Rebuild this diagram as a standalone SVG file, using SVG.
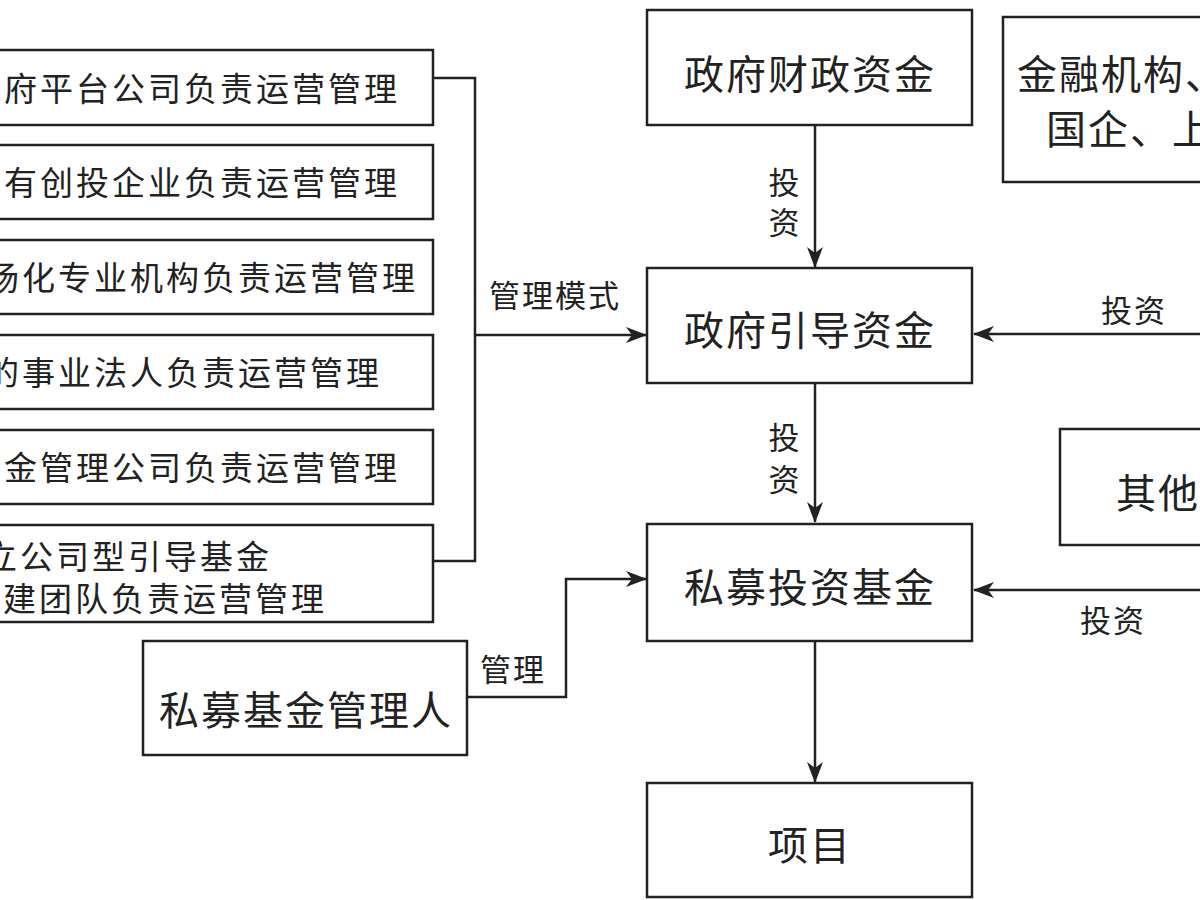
<svg xmlns="http://www.w3.org/2000/svg" width="1200" height="900" viewBox="0 0 1200 900">
<defs>
<style>
.box{fill:#fff;stroke:#222;stroke-width:2.5}
.ln{fill:none;stroke:#222;stroke-width:2.5}
text{font-family:"Noto Sans CJK SC","Noto Sans CJK JP",sans-serif;fill:#222;dominant-baseline:central}
.t1{font-size:33px;letter-spacing:3px;text-anchor:end}
.t2{font-size:40px;letter-spacing:2px}
.lb{font-size:31px;letter-spacing:2px}
</style>
<marker id="ah" markerUnits="userSpaceOnUse" markerWidth="22" markerHeight="16" refX="20" refY="8" orient="auto">
<path d="M0,0 L21,8 L0,16 L6,8 Z" fill="#222"/>
</marker>
</defs>
<rect width="1200" height="900" fill="#fff"/>
<g id="connectors">
<polyline class="ln" points="433,78 475,78 475,561 433,561"/>
<line class="ln" x1="475" y1="335" x2="646" y2="335" marker-end="url(#ah)"/>
<line class="ln" x1="815" y1="125" x2="815" y2="267" marker-end="url(#ah)"/>
<line class="ln" x1="815" y1="383" x2="815" y2="522" marker-end="url(#ah)"/>
<line class="ln" x1="815" y1="641" x2="815" y2="782" marker-end="url(#ah)"/>
<line class="ln" x1="1205" y1="334" x2="974" y2="334" marker-end="url(#ah)"/>
<line class="ln" x1="1205" y1="590" x2="974" y2="590" marker-end="url(#ah)"/>
<polyline class="ln" points="467,697 566,697 566,579 646,579" marker-end="url(#ah)"/>
<text class="lb" x="555" y="293" text-anchor="middle">管理模式</text>
<text class="lb" text-anchor="middle"><tspan x="785" y="180">投</tspan><tspan x="785" y="220">资</tspan></text>
<text class="lb" text-anchor="middle"><tspan x="785" y="435">投</tspan><tspan x="785" y="477">资</tspan></text>
<text class="lb" x="1134" y="308" text-anchor="middle">投资</text>
<text class="lb" x="1113" y="618" text-anchor="middle">投资</text>
<text class="lb" x="513" y="667" text-anchor="middle">管理</text>
</g>
<g id="n1"><rect class="box" x="-10" y="50" width="443" height="75"/><text class="t1" x="400" y="87">府平台公司负责运营管理</text></g>
<g id="n2"><rect class="box" x="-10" y="145" width="443" height="74"/><text class="t1" x="400" y="181">有创投企业负责运营管理</text></g>
<g id="n3"><rect class="box" x="-10" y="240" width="443" height="74"/><text class="t1" x="418" y="276">场化专业机构负责运营管理</text></g>
<g id="n4"><rect class="box" x="-10" y="335" width="443" height="74"/><text class="t1" x="382" y="371">的事业法人负责运营管理</text></g>
<g id="n5"><rect class="box" x="-10" y="430" width="443" height="74"/><text class="t1" x="400" y="466">金管理公司负责运营管理</text></g>
<g id="n6"><rect class="box" x="-10" y="525" width="443" height="97"/><text class="t1"><tspan x="272" y="555">立公司型引导基金</tspan><tspan x="327" y="597">建团队负责运营管理</tspan></text></g>
<g id="n7"><rect class="box" x="143" y="641" width="324" height="114"/><text class="t2" x="306" y="708" text-anchor="middle">私募基金管理人</text></g>
<g id="n8"><rect class="box" x="647" y="10" width="325" height="115"/><text class="t2" x="810" y="72" text-anchor="middle">政府财政资金</text></g>
<g id="n9"><rect class="box" x="1003" y="17" width="220" height="165"/><text class="t2"><tspan x="1017" y="72">金融机构、</tspan><tspan x="1046" y="127">国企、上</tspan></text></g>
<g id="n10"><rect class="box" x="647" y="268" width="325" height="115"/><text class="t2" x="810" y="328" text-anchor="middle">政府引导资金</text></g>
<g id="n11"><rect class="box" x="1060" y="429" width="160" height="116"/><text class="t2" x="1116" y="491">其他</text></g>
<g id="n12"><rect class="box" x="647" y="524" width="325" height="117"/><text class="t2" x="810" y="585" text-anchor="middle">私募投资基金</text></g>
<g id="n13"><rect class="box" x="647" y="783" width="325" height="114"/><text class="t2" x="810" y="843" text-anchor="middle">项目</text></g>
</svg>
